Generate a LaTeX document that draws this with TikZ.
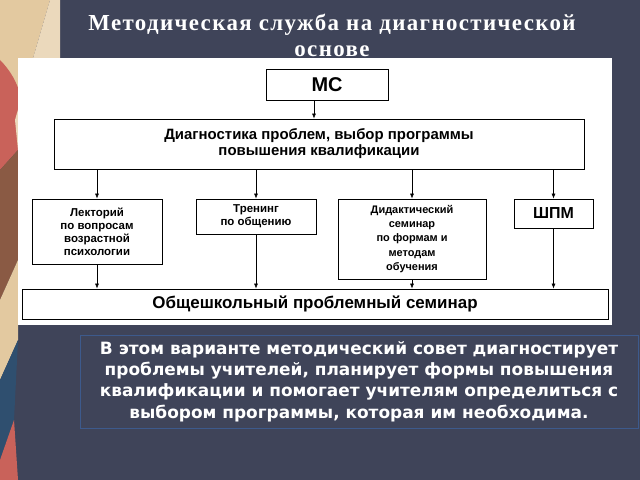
\documentclass[tikz,border=0pt]{standalone}
\usepackage{fontspec}
\setmainfont{Liberation Sans}
\newfontfamily\titlefont[LetterSpace=6]{Liberation Serif}
\newfontfamily\notefont{DejaVu Sans}
\usetikzlibrary{arrows.meta}
\definecolor{slide}{HTML}{3F4459}
\definecolor{noteline}{HTML}{3D5A8C}
\definecolor{decobeige}{HTML}{E3C9A0}
\definecolor{decored}{HTML}{C9625A}
\definecolor{decobrown}{HTML}{8A5A44}
\definecolor{decoblue}{HTML}{2F4F6F}
\begin{document}
\begin{tikzpicture}[x=1bp,y=-1bp,>={Latex[length=5bp,width=4bp]},
    box/.style={draw=black,line width=0.8bp,fill=white,align=center,inner sep=1bp,font=\bfseries\fontsize{11.5}{13}\selectfont},
    big box/.style={box,font=\bfseries\fontsize{16}{17}\selectfont},
    link/.style={->,line width=0.6bp}]
  \useasboundingbox (0,0) rectangle (640,480);
  \fill[slide] (0,0) rectangle (640,480);
  % decorative strip on the left
  \begin{scope}
    \clip (0,0) rectangle (60,480);
    \fill[decobeige] (0,0) -- (50,0) -- (15,120) -- (0,140) -- cycle;
    \fill[decored] (0,60) .. controls (20,80) and (30,110) .. (18,150) -- (0,170) -- cycle;
    \fill[decobrown] (0,170) -- (18,150) -- (18,260) -- (0,300) -- cycle;
    \fill[decobeige] (0,300) -- (18,260) -- (18,340) -- (0,380) -- cycle;
    \fill[decoblue] (0,380) -- (18,340) -- (14,420) -- (0,460) -- cycle;
    \fill[decored] (0,460) -- (14,420) -- (18,480) -- (0,480) -- cycle;
    \fill[decobeige!70!white] (15,120) -- (50,0) -- (60,0) -- (60,58) -- (18,150) -- cycle;
  \end{scope}
  % title
  \node[text=white,align=center,font=\titlefont\bfseries\fontsize{23}{26}\selectfont] (title) at (332,35)
    {Методическая служба на диагностической\\основе};
  % white panel
  \fill[white] (18,58) rectangle (612,325);
  \node[big box,minimum width=122bp,minimum height=31bp,font=\bfseries\fontsize{20}{21}\selectfont] (ms) at (327,84.5) {МС};
  \node[box,minimum width=530bp,minimum height=50bp,font=\bfseries\fontsize{15}{16}\selectfont] (diag) at (319,144)
    {Диагностика проблем, выбор программы\\повышения квалификации};
  \node[box,minimum width=130bp,minimum height=65bp] (lect) at (97,231.5)
    {Лекторий\\по вопросам\\возрастной\\психологии};
  \node[box,minimum width=120bp,minimum height=35bp] (train) at (256,216.5)
    {Тренинг\\по общению};
  \node[box,minimum width=148bp,minimum height=80bp,font=\bfseries\fontsize{11}{14.5}\selectfont] (didact) at (412,239)
    {Дидактический\\семинар\\по формам и\\методам\\обучения};
  \node[big box,minimum width=79bp,minimum height=29bp] (shpm) at (553.5,213.5) {ШПМ};
  \node[big box,minimum width=586bp,minimum height=30bp,font=\bfseries\fontsize{17}{18}\selectfont] (common) at (315,304)
    {Общешкольный проблемный семинар};
  % connectors
  \draw[link] (ms.south -| 314,0) -- (diag.north -| 314,0);
  \foreach \n in {lect,train,didact,shpm}
  {
    \draw[link] (diag.south -| \n) -- (\n.north);
    \draw[link] (\n.south) -- (common.north -| \n);
  }
  % note
  \node[draw=noteline,line width=0.8bp,text=white,align=center,minimum width=558bp,minimum height=93bp,
    font=\notefont\bfseries\fontsize{17}{21.5}\selectfont] (note) at (359,381.5)
    {В этом варианте методический совет диагностирует\\проблемы учителей, планирует формы повышения\\квалификации и помогает учителям определиться с\\выбором программы, которая им необходима.};
\end{tikzpicture}
\end{document}
